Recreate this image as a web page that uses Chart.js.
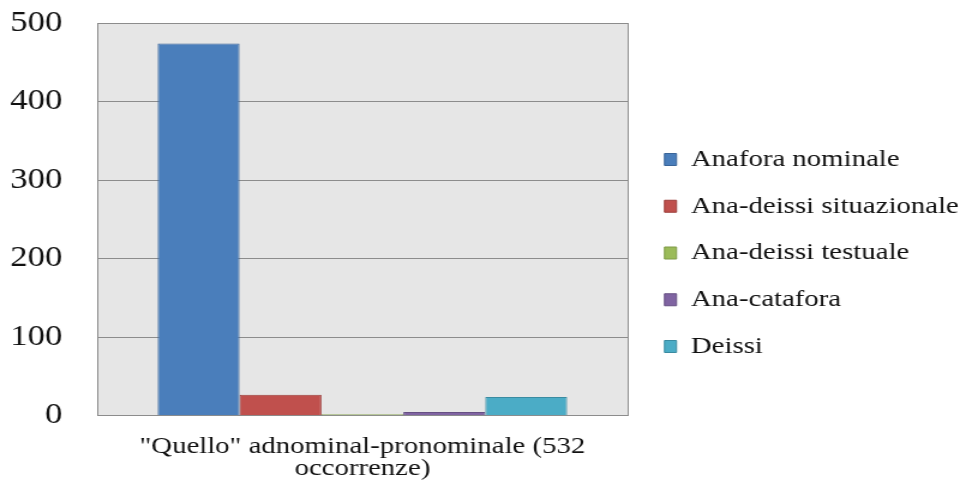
<!DOCTYPE html>
<html>
<head>
<meta charset="utf-8">
<script src="https://cdn.jsdelivr.net/npm/chart.js@4.4.1/dist/chart.umd.min.js"></script>
<style>
  html, body { margin: 0; padding: 0; background: #ffffff; overflow: hidden; }
  /* the figure is laid out narrow and widened horizontally */
  #wrap { width: 807px; height: 501px; transform: scaleX(1.2); transform-origin: 0 0; }
</style>
</head>
<body>
<div id="wrap"><canvas id="chart" width="807" height="501"></canvas></div>
<script>
// Categories and series
const categories = [['"Quello" adnominal-pronominale (532', 'occorrenze)']];
const seriesNames = ['Anafora nominale', 'Ana-deissi situazionale', 'Ana-deissi testuale', 'Ana-catafora', 'Deissi'];
const anaforaNominale = [474];
const anaDeissiSituazionale = [27];
const anaDeissiTestuale = [2];
const anaCatafora = [5];
const deissi = [24];
const yTicks = [0, 100, 200, 300, 400, 500];

const fillColors = ['#4A7EBB', '#C0504D', '#9BBB59', '#8064A2', '#4BACC6'];
const edgeColors = ['#3A6599', '#9C3E3B', '#7E9A47', '#664F83', '#3A8BA1'];
const seriesValues = [anaforaNominale, anaDeissiSituazionale, anaDeissiTestuale, anaCatafora, deissi];

const serif = '"Liberation Serif", "Times New Roman", serif';

// Light grey plot background behind the bars
const plotBackground = {
  id: 'plotBackground',
  beforeDraw(chart) {
    const { ctx, chartArea: a } = chart;
    ctx.save();
    ctx.fillStyle = '#E6E6E6';
    ctx.fillRect(a.left, a.top, a.right - a.left, a.bottom - a.top);
    ctx.restore();
  }
};

function draw() {
  new Chart(document.getElementById('chart'), {
    type: 'bar',
    data: {
      labels: categories,
      datasets: seriesNames.map((name, i) => ({
        label: name,
        data: seriesValues[i],
        backgroundColor: fillColors[i],
        borderColor: edgeColors[i],
        borderWidth: 1,
        categoryPercentage: 0.772,
        barPercentage: 1.0
      }))
    },
    options: {
      responsive: false,
      animation: false,
      layout: { padding: { top: 23, right: 0, bottom: 1, left: 0 } },
      plugins: {
        tooltip: { enabled: false },
        legend: {
          position: 'right',
          align: 'start',
          maxWidth: 276,
          title: {
            display: true,
            text: ' ',
            font: { family: serif, size: 10, lineHeight: 1.2 },
            padding: { top: 89.75, bottom: 0 }
          },
          labels: {
            color: '#111',
            font: { family: serif, size: 24 },
            boxWidth: 10,
            boxHeight: 12,
            padding: 22.75
          }
        }
      },
      scales: {
        x: {
          grid: { display: true, color: '#8C8C8C', drawTicks: false, lineWidth: 1 },
          border: { display: true, color: '#8C8C8C' },
          ticks: {
            color: '#111',
            font: { family: serif, size: 24, lineHeight: 0.92 },
            padding: 20,
            maxRotation: 0
          }
        },
        y: {
          min: 0,
          max: 500,
          afterBuildTicks(scale) {
            scale.ticks = yTicks.map(v => ({ value: v }));
          },
          afterFit(scale) {
            scale.width = 81;
            scale.paddingTop = 0;
            scale.paddingBottom = 0;
          },
          grid: { color: '#8C8C8C', drawTicks: false, lineWidth: 1 },
          border: { display: true, color: '#8C8C8C' },
          ticks: {
            color: '#111',
            font: { family: serif, size: 29 },
            padding: 29
          }
        },
        gap: {
          position: 'right',
          display: true,
          afterFit(scale) {
            scale.width = 8;
            scale.paddingTop = 0;
            scale.paddingBottom = 0;
          },
          grid: { display: false, drawTicks: false },
          border: { display: false },
          ticks: { display: false }
        }
      }
    },
    plugins: [plotBackground]
  });
}

Promise.all([
  document.fonts.load('24px "Liberation Serif"'),
  document.fonts.load('29px "Liberation Serif"')
]).then(draw, draw);
</script>
</body>
</html>
